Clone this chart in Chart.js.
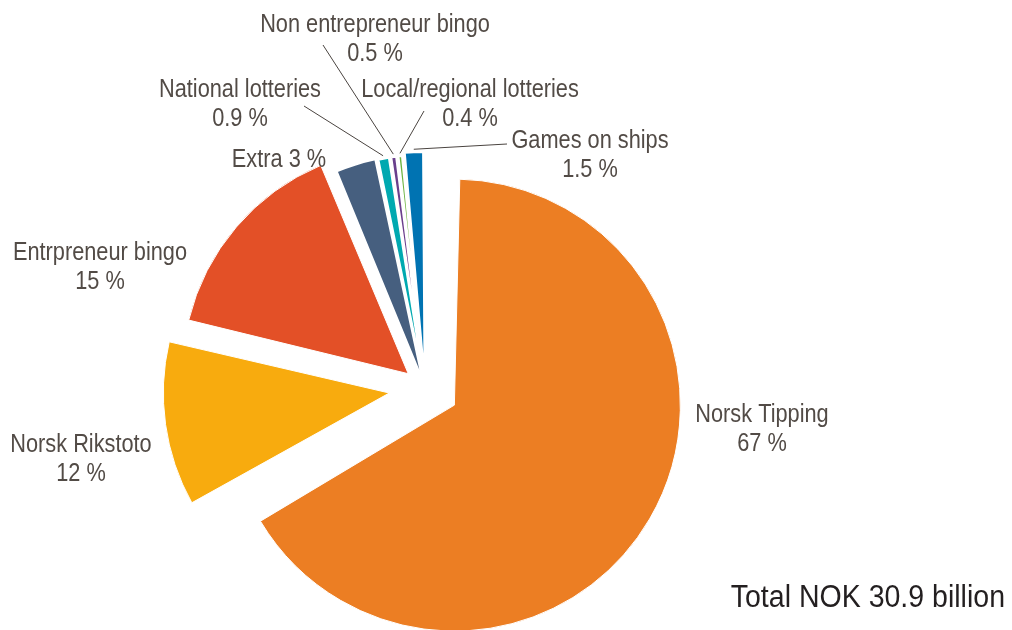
<!DOCTYPE html>
<html>
<head>
<meta charset="utf-8">
<script src="https://cdn.jsdelivr.net/npm/chart.js"></script>
<style>
  html, body { margin: 0; padding: 0; background: #fff; }
  #wrap { width: 1012px; height: 630px; position: relative; }
</style>
</head>
<body>
<div id="wrap"><canvas id="myChart"></canvas></div>
<script>
// data
const categories = ['Norsk Tipping', 'Norsk Rikstoto', 'Entrpreneur bingo', 'Extra', 'National lotteries', 'Non entrepreneur bingo', 'Local/regional lotteries', 'Games on ships'];
const shares = [67, 12, 15, 3, 0.9, 0.5, 0.4, 1.5];
const shareLabels = ['67 %', '12 %', '15 %', '3 %', '0.9 %', '0.5 %', '0.4 %', '1.5 %'];
const totalLabel = 'Total NOK 30.9 billion';

// styling
const colours = ['#ec7e23', '#f8ab0e', '#e35027', '#465f7f', '#00a9b0', '#6a3f8c', '#6cb33f', '#0073b2'];
const explode = [34, 36, 22, 8, 7, 7, 7, 10];
const borders = [1, 1, 1, 2, 2, 2, 2, 2];
const pieRadius = 226;
const labelFont = '25px "Liberation Sans", Arial, sans-serif';
const labelColour = '#524b46';
const narrow = 0.87;

// where each label sits (centre x, first baseline); leader start for the small ones
const labelPos = [
  { x: 762, y: 422 },
  { x: 81, y: 452 },
  { x: 100, y: 260 },
  { x: 279, y: 167, inline: true },
  { x: 240, y: 97, from: [304, 106] },
  { x: 375, y: 32, from: [323, 45] },
  { x: 470, y: 97, from: [424, 111] },
  { x: 590, y: 148, from: [507, 144] }
];

// chart.js grows exploded arcs, keep them all the same radius
const evenRadius = {
  id: 'evenRadius',
  afterDatasetUpdate(chart, args) {
    args.meta.data.forEach((arc, i) => {
      const fix = 1 - Math.sin(Math.min(Math.PI, arc.circumference));
      arc.outerRadius = pieRadius - explode[i] * fix;
    });
  }
};

function condensedText(ctx, text, x, y, squeeze) {
  ctx.save();
  ctx.translate(x, y);
  ctx.scale(squeeze, 1);
  ctx.fillText(text, 0, 0);
  ctx.restore();
}

const sliceLabels = {
  id: 'sliceLabels',
  afterDraw(chart) {
    const ctx = chart.ctx;
    const arcs = chart.getDatasetMeta(0).data;
    ctx.save();
    ctx.font = labelFont;
    ctx.fillStyle = labelColour;
    ctx.textAlign = 'center';
    ctx.textBaseline = 'alphabetic';
    labelPos.forEach((p, i) => {
      if (p.inline) {
        condensedText(ctx, categories[i] + ' ' + shareLabels[i], p.x, p.y, narrow);
      } else {
        condensedText(ctx, categories[i], p.x, p.y, narrow);
        condensedText(ctx, shareLabels[i], p.x, p.y + 28.5, narrow);
      }
      if (p.from) {
        const arc = arcs[i];
        const mid = (arc.startAngle + arc.endAngle) / 2;
        const r = explode[i] + pieRadius + 3;
        ctx.beginPath();
        ctx.strokeStyle = '#4a4440';
        ctx.lineWidth = 1;
        ctx.moveTo(p.from[0], p.from[1]);
        ctx.lineTo(arc.x + Math.cos(mid) * r, arc.y + Math.sin(mid) * r);
        ctx.stroke();
      }
    });
    ctx.font = '31px "Liberation Sans", Arial, sans-serif';
    ctx.fillStyle = '#231f20';
    ctx.textAlign = 'right';
    condensedText(ctx, totalLabel, 1005, 607, 0.92);
    ctx.restore();
  }
};

document.addEventListener('DOMContentLoaded', function() {
  const ctx = document.getElementById('myChart');

  new Chart(ctx, {
    type: 'pie',
    data: {
      labels: categories,
      datasets: [{
        data: shares,
        backgroundColor: colours,
        borderColor: '#ffffff',
        borderWidth: borders,
        offset: explode.map(v => v * 4),
        hoverOffset: 0,
        clip: false
      }]
    },
    options: {
      responsive: true,
      maintainAspectRatio: false,
      animation: false,
      radius: pieRadius,
      layout: { padding: { left: 0, right: 162, top: 146, bottom: 0 } },
      plugins: {
        legend: { display: false },
        tooltip: { enabled: false }
      }
    },
    plugins: [evenRadius, sliceLabels]
  });
});
</script>
</body>
</html>
